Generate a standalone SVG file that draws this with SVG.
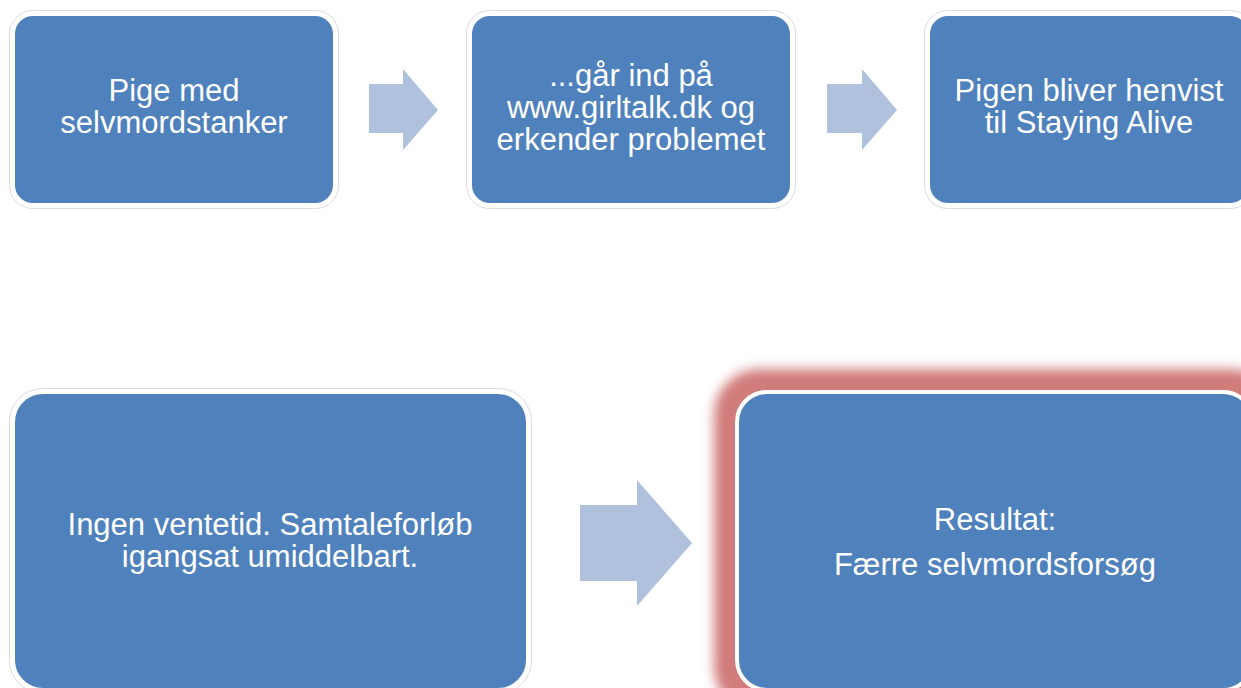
<svg xmlns="http://www.w3.org/2000/svg" width="1241" height="688" viewBox="0 0 1241 688">
  <style>
    .box { fill: #4f81bd; stroke: #ffffff; stroke-width: 4; }
    .halo { fill: none; stroke: #dcdcdc; stroke-width: 1; }
    .arrow { fill: #b0c1dd; }
    .label { font-family: "Liberation Sans", Arial, sans-serif; font-size: 31px; fill: #ffffff; text-anchor: middle; }
  </style>
  <defs>
    <filter id="glow" x="-20%" y="-20%" width="140%" height="140%">
      <feGaussianBlur stdDeviation="6"/>
    </filter>
  </defs>
  <rect width="1241" height="688" fill="#ffffff"/>

  <g id="connectors">
    <polygon class="arrow" points="369,84 403,84 403,69 438,110 403,150 403,133 369,133"/>
    <polygon class="arrow" points="827,84 862,84 862,69 897,110 862,150 862,133 827,133"/>
    <polygon class="arrow" points="580,505 637,505 637,480 692,543 637,606 637,581 580,581"/>
  </g>

  <g id="node1">
    <rect class="halo" x="9.5" y="10.5" width="329" height="198" rx="23"/>
    <rect class="box" x="13" y="14" width="322" height="191" rx="20"/>
    <text class="label" x="174" y="101">Pige med</text>
    <text class="label" x="174" y="133">selvmordstanker</text>
  </g>

  <g id="node2">
    <rect class="halo" x="466.5" y="10.5" width="329" height="198" rx="23"/>
    <rect class="box" x="470" y="14" width="322" height="191" rx="20"/>
    <text class="label" x="631" y="86">...går ind på</text>
    <text class="label" x="631" y="118">www.girltalk.dk og</text>
    <text class="label" x="631" y="150">erkender problemet</text>
  </g>

  <g id="node3">
    <rect class="halo" x="924.5" y="10.5" width="329" height="198" rx="23"/>
    <rect class="box" x="928" y="14" width="322" height="191" rx="20"/>
    <text class="label" x="1089" y="101">Pigen bliver henvist</text>
    <text class="label" x="1089" y="133">til Staying Alive</text>
  </g>

  <g id="node4">
    <rect class="halo" x="9.5" y="388.5" width="522" height="305" rx="33"/>
    <rect class="box" x="13" y="392" width="515" height="298" rx="30"/>
    <text class="label" x="270" y="535">Ingen ventetid. Samtaleforløb</text>
    <text class="label" x="270" y="567">igangsat umiddelbart.</text>
  </g>

  <g id="node5">
    <rect x="714" y="369" width="562" height="344" rx="46" fill="#d07c7a" filter="url(#glow)"/>
    <rect class="box" x="737" y="392" width="516" height="298" rx="30"/>
    <text class="label" x="995" y="530">Resultat:</text>
    <text class="label" x="995" y="575">Færre selvmordsforsøg</text>
  </g>
</svg>
